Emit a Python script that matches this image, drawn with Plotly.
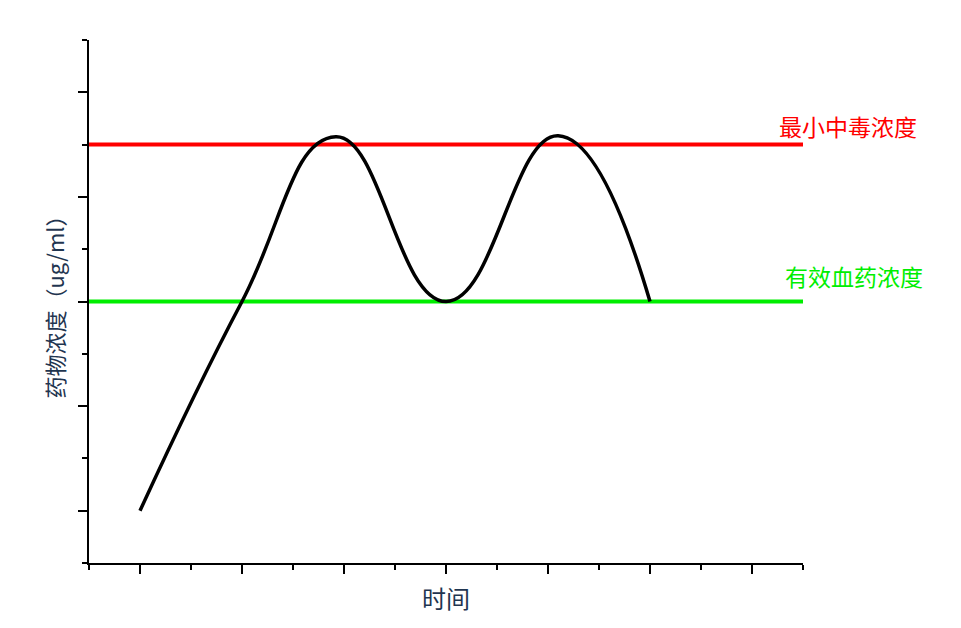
import plotly.graph_objects as go

# Drug concentration curve (key points)
time_x = [1.0, 3.0, 4.84, 7.0, 9.2, 11.0]
conc_y = [1.0, 5.0, 8.15, 5.0, 8.17, 5.0]

toxic_level = 8
effective_level = 5
toxic_label = "最小中毒浓度"
effective_label = "有效血药浓度"
x_title = "时间"
y_title = "药物浓度（ug/ml）"

x_range = [0, 14]
y_range = [0, 10]

font_family = "Noto Sans CJK SC"
title_color = "#1f3550"

fig = go.Figure()
fig.add_trace(go.Scatter(x=x_range, y=[toxic_level, toxic_level], mode="lines",
                         line=dict(color="#ff0000", width=4), showlegend=False, hoverinfo="skip"))
fig.add_trace(go.Scatter(x=x_range, y=[effective_level, effective_level], mode="lines",
                         line=dict(color="#00ee00", width=4), showlegend=False, hoverinfo="skip"))
fig.add_trace(go.Scatter(x=time_x, y=conc_y, mode="lines",
                         line=dict(color="black", width=3.5, shape="spline", smoothing=1.3),
                         showlegend=False))

fig.add_annotation(x=14, y=toxic_level, xref="x", yref="y", text=toxic_label,
                   showarrow=False, xanchor="center", yanchor="bottom", xshift=45, yshift=0,
                   font=dict(family=font_family, size=23, color="#ff0000"))
fig.add_annotation(x=14, y=effective_level, xref="x", yref="y", text=effective_label,
                   showarrow=False, xanchor="center", yanchor="bottom", xshift=51, yshift=7,
                   font=dict(family=font_family, size=23, color="#00ee00"))

axis_common = dict(showgrid=False, zeroline=False, showline=True, linecolor="black",
                   linewidth=2, ticks="outside", ticklen=9, tickwidth=2, tickcolor="black",
                   showticklabels=False, automargin=False)

fig.update_xaxes(range=x_range, tick0=1, dtick=2,
                 minor=dict(ticks="outside", dtick=1, tick0=0, ticklen=5, tickwidth=2, tickcolor="black"),
                 title=dict(text=x_title, standoff=18,
                            font=dict(family=font_family, size=24, color=title_color)),
                 **axis_common)
fig.update_yaxes(range=y_range, tick0=1, dtick=2,
                 minor=dict(ticks="outside", dtick=1, tick0=0, ticklen=5, tickwidth=2, tickcolor="black"),
                 title=dict(text=y_title, standoff=7,
                            font=dict(family=font_family, size=22, color=title_color)),
                 **axis_common)

fig.update_layout(width=953, height=620, plot_bgcolor="white", paper_bgcolor="white",
                  margin=dict(l=81, r=158, t=32, b=65))

fig.write_html("out.html")
